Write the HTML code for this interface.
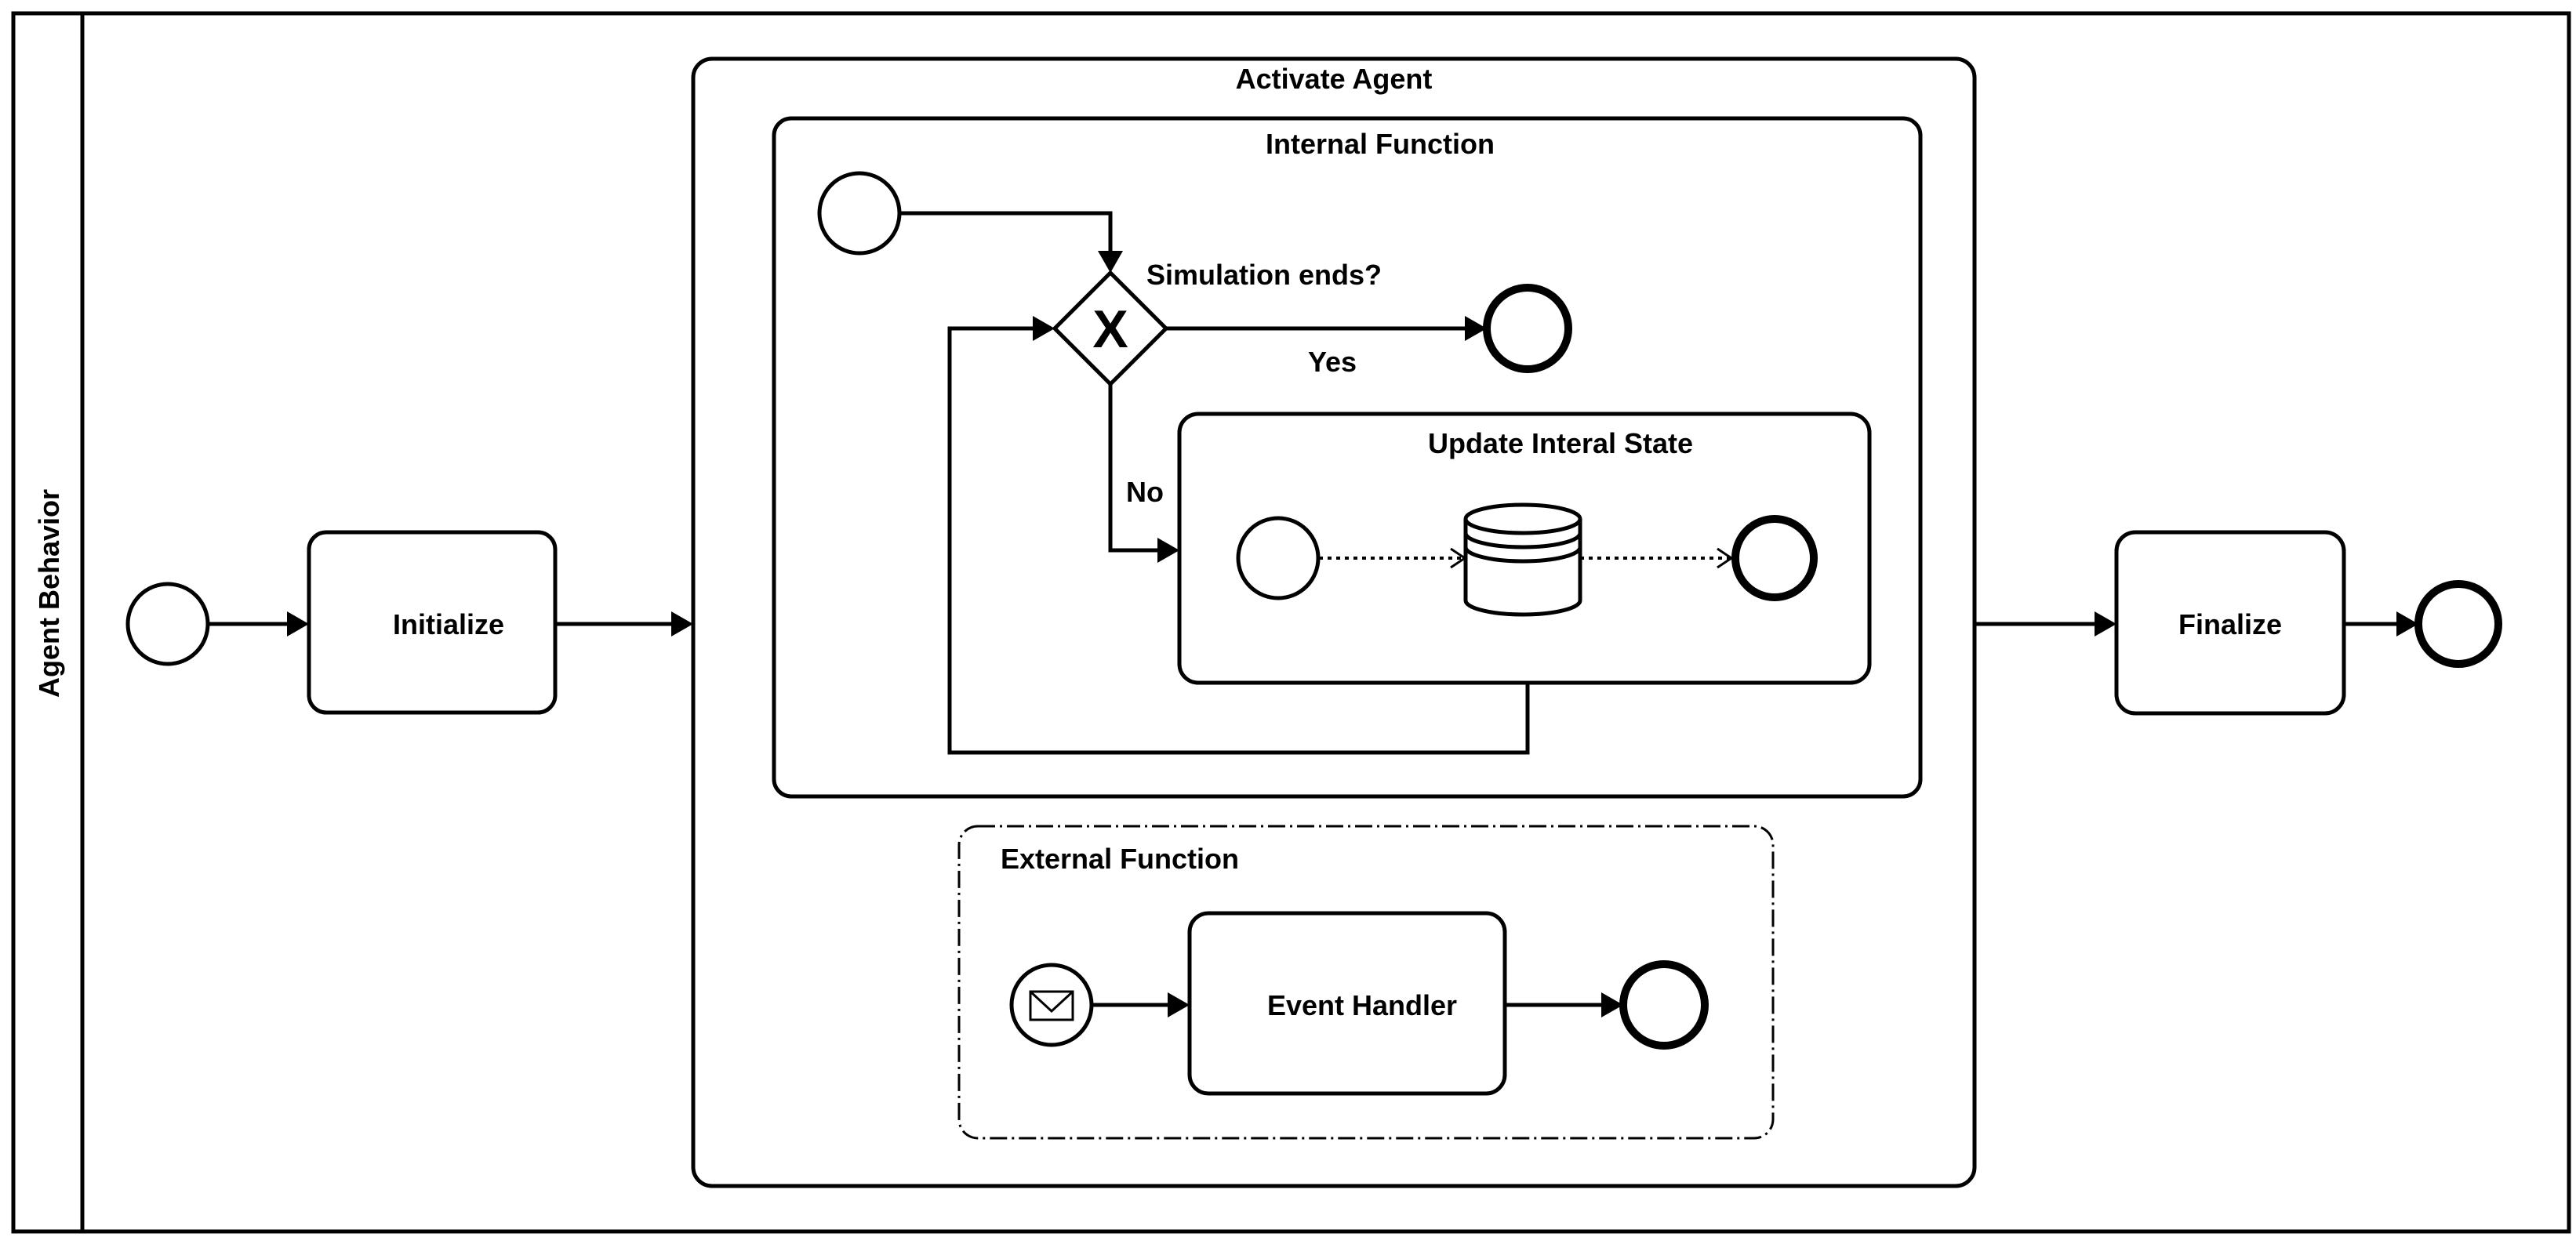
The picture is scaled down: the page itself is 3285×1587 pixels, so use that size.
<!DOCTYPE html>
<html><head><meta charset="utf-8"><style>
html,body{margin:0;padding:0;background:#fff;}
svg{display:block;}
text{font-family:"Liberation Sans",Arial,sans-serif;font-weight:bold;fill:#000;}
</style></head><body>
<svg width="3285" height="1587" viewBox="0 0 3285 1587" xmlns="http://www.w3.org/2000/svg">
<g fill="none" stroke="#000" stroke-width="5">
<rect x="17" y="17" width="3259" height="1554"/>
<line x1="105" y1="17" x2="105" y2="1571"/>
<circle cx="214" cy="796" r="51"/>
<line x1="265" y1="796" x2="372" y2="796"/>
<rect x="394" y="679" width="314" height="230" rx="22"/>
<line x1="708" y1="796" x2="862" y2="796"/>
<rect x="884" y="75" width="1634" height="1438" rx="24"/>
<line x1="2518" y1="796" x2="2676" y2="796"/>
<rect x="2699" y="679" width="290" height="231" rx="24"/>
<line x1="2989" y1="796" x2="3060" y2="796"/>
<circle cx="3135" cy="796" r="51" stroke-width="10"/>
<rect x="987" y="151" width="1462" height="865" rx="22"/>
<circle cx="1096" cy="272" r="51"/>
<polyline points="1147,272 1416,272 1416,326"/>
<polygon points="1416,348 1487,419 1416,490 1345,419"/>
<line x1="1487" y1="419" x2="1874" y2="419"/>
<circle cx="1948" cy="419" r="52" stroke-width="10"/>
<polyline points="1416,490 1416,702 1482,702"/>
<rect x="1504" y="528" width="880" height="343" rx="24"/>
<polyline points="1948,871 1948,960 1211,960 1211,419 1323,419"/>
<circle cx="1630" cy="712" r="51"/>
<line x1="1682" y1="712" x2="1866" y2="712" stroke-width="4" stroke-dasharray="5,6"/>
<polyline points="1850,700 1868,712 1850,724" stroke-width="3"/>
<line x1="2015" y1="712" x2="2206" y2="712" stroke-width="4" stroke-dasharray="5,6"/>
<polyline points="2190,700 2208,712 2190,724" stroke-width="3"/>
<circle cx="2263" cy="712" r="50" stroke-width="10"/>
<path d="M1869,662 L1869,766 A73,18 0 0 0 2015,766 L2015,662"/>
<ellipse cx="1942" cy="662" rx="73" ry="18"/>
<path d="M1869,680 A73,18 0 0 0 2015,680"/>
<path d="M1869,698 A73,18 0 0 0 2015,698"/>
<rect x="1223" y="1054" width="1038" height="398" rx="24" stroke-width="3" stroke-dasharray="22,6,3,6"/>
<circle cx="1341" cy="1282" r="51"/>
<rect x="1314" y="1265" width="54" height="36" stroke-width="3"/>
<polyline points="1314,1265 1341,1290 1368,1265" stroke-width="3"/>
<line x1="1392" y1="1282" x2="1495" y2="1282"/>
<rect x="1517" y="1165" width="402" height="230" rx="24"/>
<line x1="1919" y1="1282" x2="2046" y2="1282"/>
<circle cx="2122" cy="1282" r="52" stroke-width="10"/>
</g>
<g fill="#000">
<polygon points="394,796 366,780 366,812"/>
<polygon points="884,796 856,780 856,812"/>
<polygon points="2699,796 2671,780 2671,812"/>
<polygon points="3084,796 3056,780 3056,812"/>
<polygon points="1416,348 1400,320 1432,320"/>
<polygon points="1896,419 1868,403 1868,435"/>
<polygon points="1504,702 1476,686 1476,718"/>
<polygon points="1345,419 1317,403 1317,435"/>
<polygon points="1517,1282 1489,1266 1489,1298"/>
<polygon points="2070,1282 2042,1266 2042,1298"/>
</g>
<g font-size="36">
<text x="63" y="757" text-anchor="middle" transform="rotate(-90 63 757)" dy="12">Agent Behavior</text>
<text x="572" y="809" text-anchor="middle">Initialize</text>
<text x="2844" y="809" text-anchor="middle">Finalize</text>
<text x="1701" y="113" text-anchor="middle">Activate Agent</text>
<text x="1760" y="196" text-anchor="middle">Internal Function</text>
<text x="1462" y="363">Simulation ends?</text>
<text x="1699" y="474" text-anchor="middle">Yes</text>
<text x="1990" y="578" text-anchor="middle">Update Interal State</text>
<text x="1436" y="640">No</text>
<text x="1276" y="1108">External Function</text>
<text x="1737" y="1295" text-anchor="middle">Event Handler</text>
<text x="1416" y="443" text-anchor="middle" font-size="68">X</text>
</g>
</svg>
</body></html>
